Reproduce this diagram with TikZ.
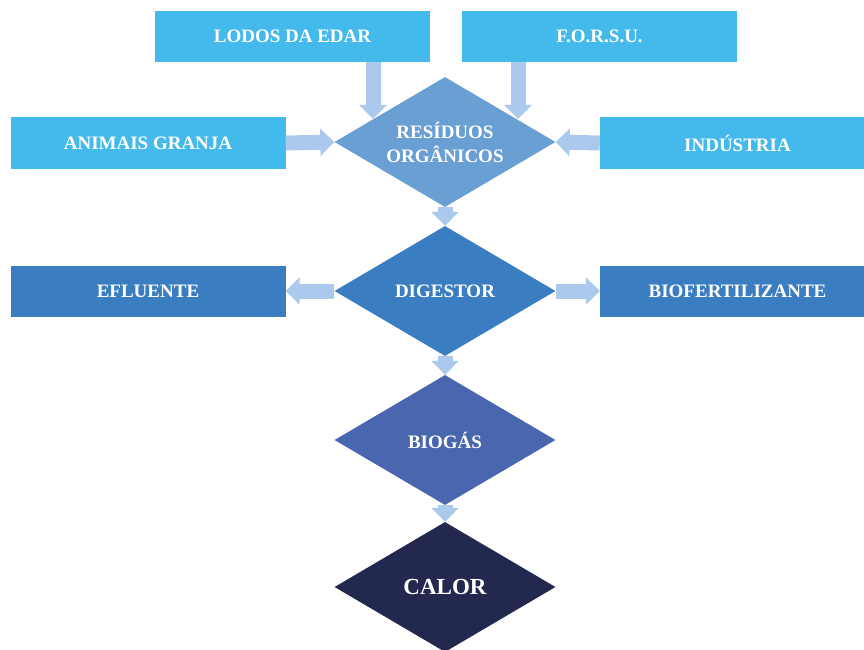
\documentclass[tikz,border=0pt]{standalone}
\usepackage{fontspec}
\setmainfont{Liberation Serif}
\usetikzlibrary{shapes.geometric,arrows.meta}
\definecolor{boxlight}{HTML}{44B9EB}
\definecolor{resc}{HTML}{6A9FD3}
\definecolor{digc}{HTML}{3B7DC1}
\definecolor{biogc}{HTML}{4966AE}
\definecolor{calorc}{HTML}{22284E}
\definecolor{arrowc}{HTML}{ABC9EC}
\begin{document}
\begin{tikzpicture}[x=1pt,y=-1pt,
  every node/.style={text=white, font=\bfseries\fontsize{19}{24}\selectfont, inner sep=0pt},
  srcbox/.style={rectangle, fill=boxlight, minimum width=275pt, minimum height=51pt},
  outbox/.style={rectangle, fill=digc, minimum width=275pt, minimum height=51pt},
  dia/.style={diamond, minimum width=221pt, minimum height=130pt},
  flow/.style={draw=arrowc, line width=15pt, -{Triangle[width=27pt,length=14pt]}}]
\useasboundingbox (0,0) rectangle (864,650);
\clip (0,0) rectangle (864,650);
% source boxes
\node[srcbox] (lodos) at (292.5,36.5) {LODOS DA EDAR};
\node[srcbox] (forsu) at (599.5,36.5) {F.O.R.S.U.};
\node[srcbox] (animais) at (148,143) {ANIMAIS GRANJA};
\node[srcbox] (ind) at (737.5,143) {INDÚSTRIA};
% diamonds
\node[dia, fill=resc] (res) at (445,142) {};
\node[align=center] (restext) at (res.center) {RESÍDUOS\\ORGÂNICOS};
\node[dia, fill=digc] (dig) at (445,291) {};
\node (digtext) at (dig.center) {DIGESTOR};
\node[dia, fill=biogc] (biog) at (445,440) {};
\node (biogtext) at (biog.center) {BIOGÁS};
\node[dia, fill=calorc] (calor) at (445,587) {};
\node[font=\bfseries\fontsize{23}{26}\selectfont] (calortext) at (calor.center) {CALOR};
% output boxes
\node[outbox] (efl) at (148,291) {EFLUENTE};
\node[outbox] (biof) at (737.5,291) {BIOFERTILIZANTE};
% arrow end points on the diamond border
\coordinate (t1) at (373,119);
\coordinate (t2) at (518,119);
% arrows
\draw[flow] (lodos.south -| t1) -- (t1);
\draw[flow] (forsu.south -| t2) -- (t2);
\draw[flow] (animais.east) -- (res.west);
\draw[flow] (ind.west) -- (res.east);
\draw[flow] (res.south) -- (dig.north);
\draw[flow] (dig.west) -- (efl.east);
\draw[flow] (dig.east) -- (biof.west);
\draw[flow] (dig.south) -- (biog.north);
\draw[flow] (biog.south) -- (calor.north);
\end{tikzpicture}
\end{document}
